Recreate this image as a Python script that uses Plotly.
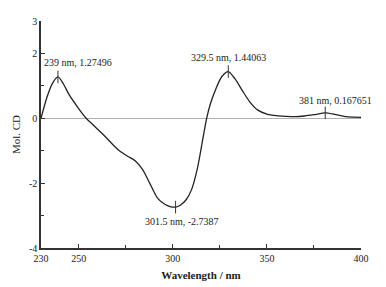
import plotly.graph_objects as go

wavelength = [230, 233, 236, 239, 242, 245, 250, 254, 258, 263, 268, 272, 276, 280,
              284, 288, 292, 296, 299, 301.5, 304, 307, 310, 313, 316, 318, 320, 323,
              326, 329.5, 333, 337, 341, 345, 350, 355, 360, 365, 370, 375, 381, 386,
              391, 396, 400]
mol_cd = [0.0, 0.62, 1.07, 1.27496, 1.05, 0.72, 0.3, 0.0, -0.22, -0.5, -0.8, -1.02,
          -1.17, -1.31, -1.58, -2.03, -2.47, -2.66, -2.73, -2.7387, -2.68, -2.52, -2.2,
          -1.57, -0.63, 0.0, 0.45, 0.92, 1.28, 1.44063, 1.22, 0.85, 0.5, 0.26, 0.13,
          0.08, 0.06, 0.05, 0.07, 0.11, 0.167651, 0.12, 0.06, 0.035, 0.03]

peak_x = [239, 301.5, 329.5, 381]
peak_y = [1.27496, -2.7387, 1.44063, 0.167651]
peak_labels = ["239 nm, 1.27496", "301.5 nm, -2.7387", "329.5 nm, 1.44063", "381 nm, 0.167651"]
label_dx = [20, 6, 0, 10]
label_dy = [14, -14, 14, 12]

x_tickvals = [230, 250, 300, 350, 400]
x_minor = [275, 325, 375]
y_tickvals = [-4, -2, 0, 2, 3]
y_minor = [-3, -1, 1]

font_family = "Liberation Serif"

fig = go.Figure()
fig.add_trace(go.Scatter(x=wavelength, y=mol_cd, mode="lines",
                         line=dict(color="#222222", width=1.3, shape="spline", smoothing=0.8),
                         hoverinfo="skip", showlegend=False))
fig.add_trace(go.Scatter(x=peak_x, y=peak_y, mode="markers",
                         marker=dict(symbol="line-ns", size=9,
                                     line=dict(color="#333333", width=1)),
                         showlegend=False))

for px_, py_, txt, dx, dy in zip(peak_x, peak_y, peak_labels, label_dx, label_dy):
    fig.add_annotation(x=px_, y=py_, text=txt, showarrow=False,
                       xshift=dx, yshift=dy,
                       font=dict(family=font_family, size=10, color="#222222"))

# the page body adds an 8px offset, so the figure is sized to the visible area
fig.update_layout(
    width=378, height=279,
    margin=dict(l=32, r=25, t=7, b=39),
    paper_bgcolor="white", plot_bgcolor="white",
    font=dict(family=font_family, size=10, color="#222222"),
)
fig.update_xaxes(range=[230, 400], tickmode="array", tickvals=x_tickvals,
                 ticktext=[str(v) for v in x_tickvals],
                 ticks="inside", ticklen=4, tickwidth=1, tickcolor="#333333",
                 minor=dict(tickmode="array", tickvals=x_minor, ticks="inside", ticklen=3,
                            tickcolor="#333333"),
                 showline=True, linecolor="#333333", linewidth=1.5, showgrid=False,
                 zeroline=False,
                 title=dict(text="Wavelength / nm", standoff=9,
                            font=dict(family=font_family, size=11, weight="bold")))
fig.update_yaxes(range=[-4, 3], tickmode="array", tickvals=y_tickvals,
                 ticktext=[str(v) for v in y_tickvals],
                 ticks="inside", ticklen=4, tickwidth=1, tickcolor="#333333",
                 minor=dict(tickmode="array", tickvals=y_minor, ticks="inside", ticklen=3,
                            tickcolor="#333333"),
                 showline=True, linecolor="#333333", linewidth=1.5, showgrid=False,
                 zeroline=True, zerolinecolor="#b0b0b0", zerolinewidth=1,
                 title=dict(text="Mol. CD", standoff=6,
                            font=dict(family=font_family, size=11)))

fig.write_html("out.html")
